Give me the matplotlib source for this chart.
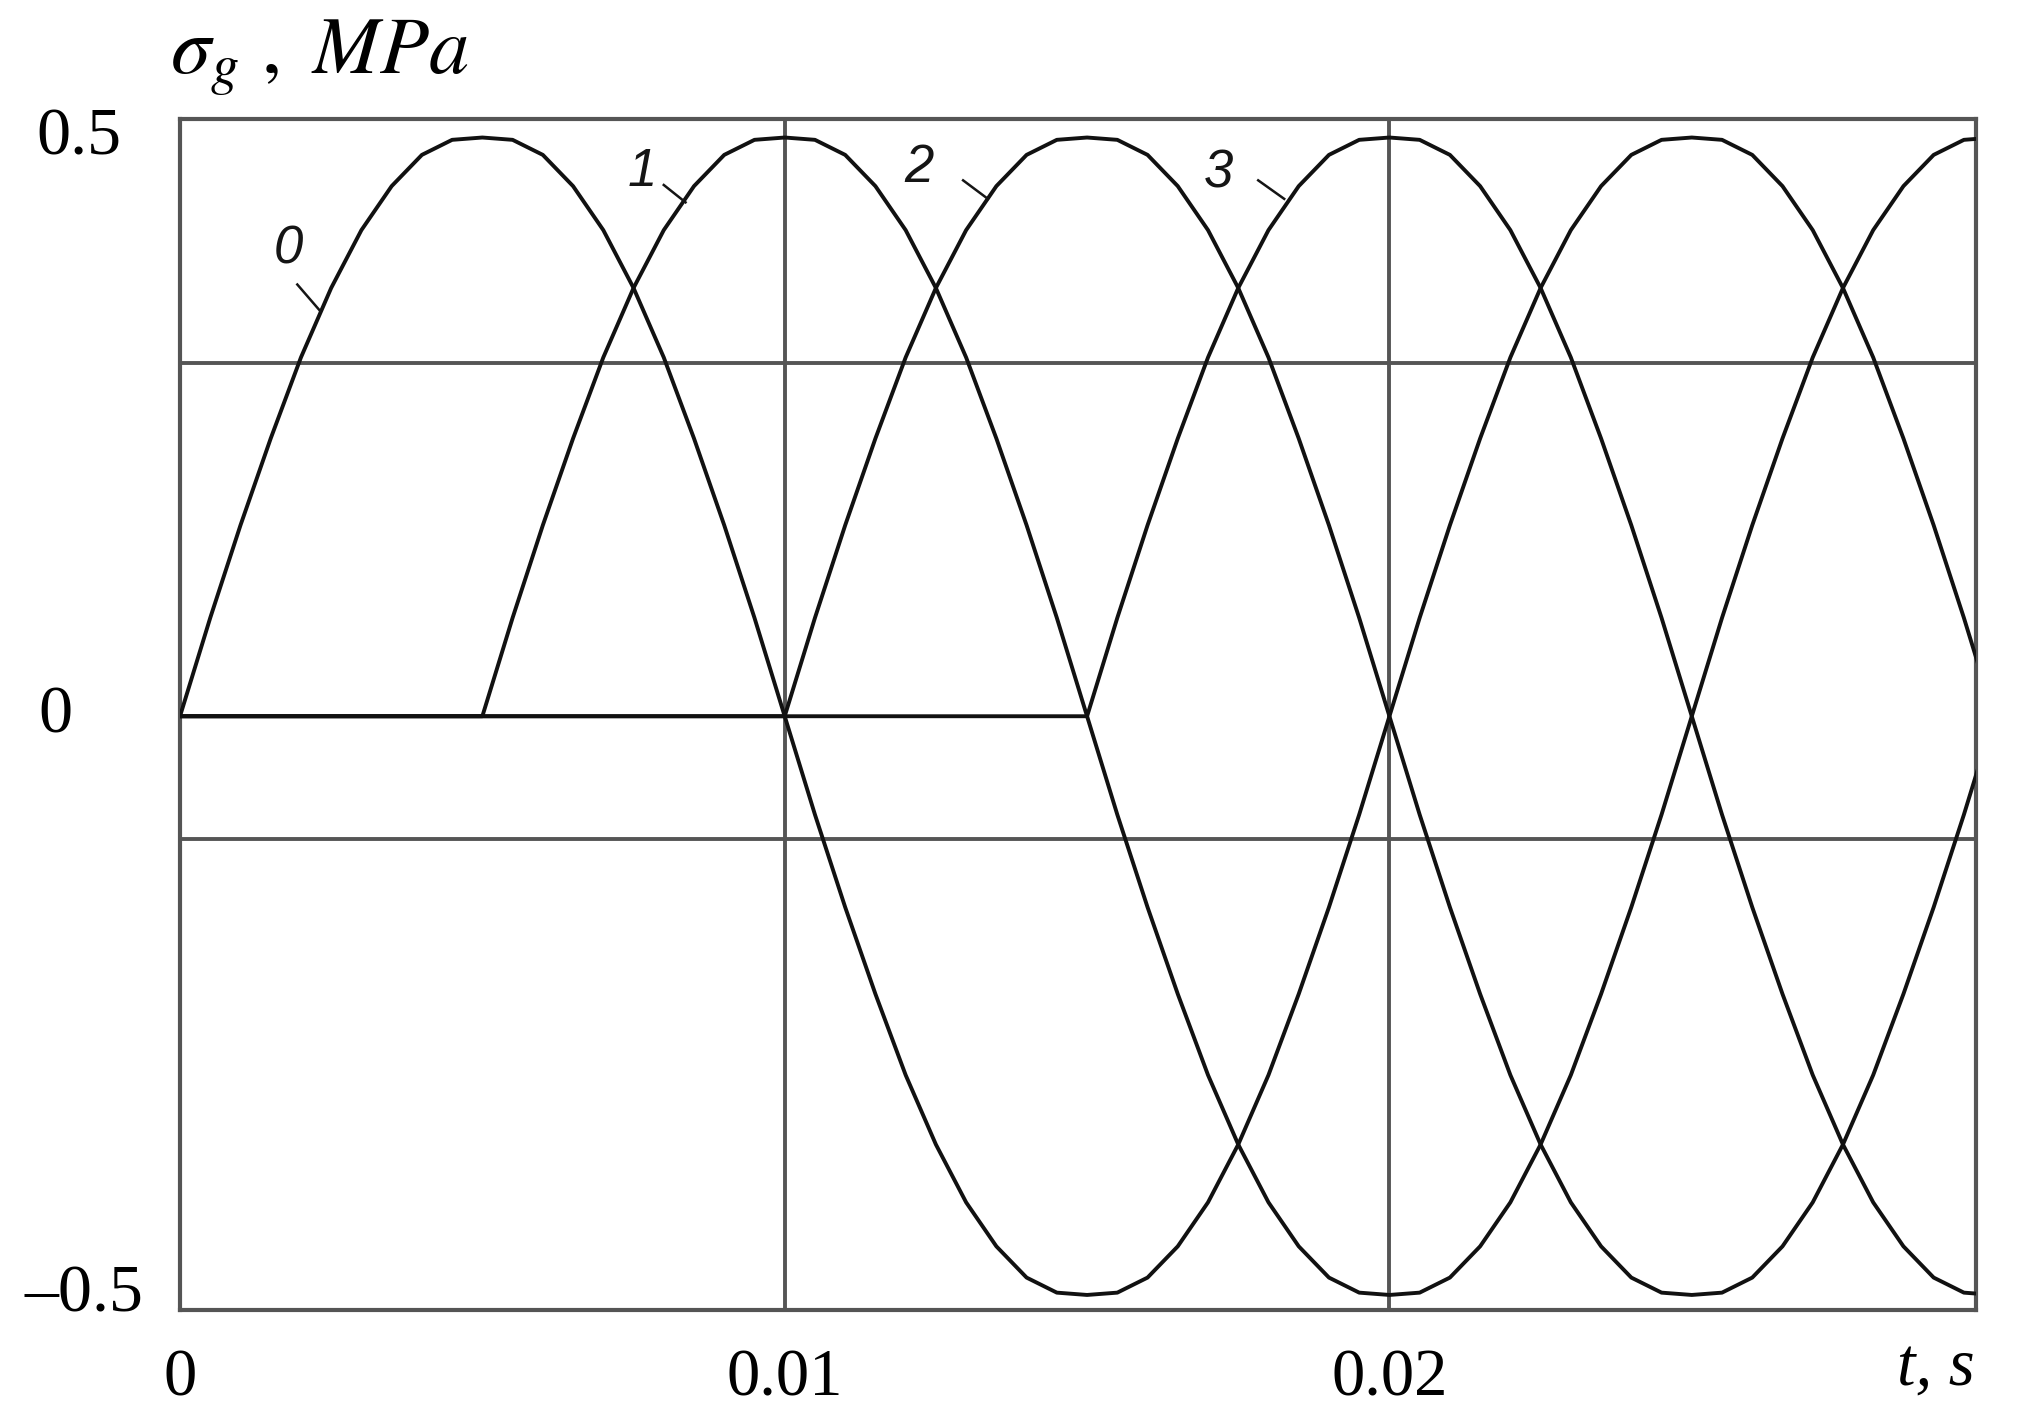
import numpy as np
import matplotlib
matplotlib.use("Agg")
from matplotlib import pyplot as plt
import matplotlib.transforms as mtransforms

plt.rcParams['font.family'] = ['Liberation Serif', 'DejaVu Serif']
plt.rcParams['mathtext.fontset'] = 'stix'

# time samples, s (every 0.5 ms)
t = np.linspace(0, 0.03, 61)

# stress curves, MPa
sig0 = [0, 0.085, 0.165, 0.24, 0.31, 0.37, 0.42, 0.458, 0.485, 0.498,
        0.5, 0.498, 0.485, 0.458, 0.42, 0.37, 0.31, 0.24, 0.165, 0.085,
        0, -0.085, -0.165, -0.24, -0.31, -0.37, -0.42, -0.458, -0.485, -0.498,
        -0.5, -0.498, -0.485, -0.458, -0.42, -0.37, -0.31, -0.24, -0.165, -0.085,
        0, 0.085, 0.165, 0.24, 0.31, 0.37, 0.42, 0.458, 0.485, 0.498,
        0.5, 0.498, 0.485, 0.458, 0.42, 0.37, 0.31, 0.24, 0.165, 0.085,
        0]
sig1 = [0, 0, 0, 0, 0, 0, 0, 0, 0, 0,
        0, 0.085, 0.165, 0.24, 0.31, 0.37, 0.42, 0.458, 0.485, 0.498,
        0.5, 0.498, 0.485, 0.458, 0.42, 0.37, 0.31, 0.24, 0.165, 0.085,
        0, -0.085, -0.165, -0.24, -0.31, -0.37, -0.42, -0.458, -0.485, -0.498,
        -0.5, -0.498, -0.485, -0.458, -0.42, -0.37, -0.31, -0.24, -0.165, -0.085,
        0, 0.085, 0.165, 0.24, 0.31, 0.37, 0.42, 0.458, 0.485, 0.498,
        0.5]
sig2 = [0, 0, 0, 0, 0, 0, 0, 0, 0, 0,
        0, 0, 0, 0, 0, 0, 0, 0, 0, 0,
        0, 0.085, 0.165, 0.24, 0.31, 0.37, 0.42, 0.458, 0.485, 0.498,
        0.5, 0.498, 0.485, 0.458, 0.42, 0.37, 0.31, 0.24, 0.165, 0.085,
        0, -0.085, -0.165, -0.24, -0.31, -0.37, -0.42, -0.458, -0.485, -0.498,
        -0.5, -0.498, -0.485, -0.458, -0.42, -0.37, -0.31, -0.24, -0.165, -0.085,
        0]
sig3 = [0, 0, 0, 0, 0, 0, 0, 0, 0, 0,
        0, 0, 0, 0, 0, 0, 0, 0, 0, 0,
        0, 0, 0, 0, 0, 0, 0, 0, 0, 0,
        0, 0.085, 0.165, 0.24, 0.31, 0.37, 0.42, 0.458, 0.485, 0.498,
        0.5, 0.498, 0.485, 0.458, 0.42, 0.37, 0.31, 0.24, 0.165, 0.085,
        0, -0.085, -0.165, -0.24, -0.31, -0.37, -0.42, -0.458, -0.485, -0.498,
        -0.5]
curves = [sig0, sig1, sig2, sig3]
curve_names = ['0', '1', '2', '3']

# label spots (text pos, leader start, leader end) in data units
label_pos = [(0.00179, 0.403), (0.00765, 0.470), (0.01222, 0.474), (0.01717, 0.469)]
leader_a = [(0.00194, 0.373), (0.0080, 0.459), (0.01295, 0.463), (0.01783, 0.463)]
leader_b = [(0.00232, 0.350), (0.00836, 0.444), (0.01336, 0.447), (0.01826, 0.447)]

xticks = [0, 0.01, 0.02]
xtick_labels = ['0', '0.01', '0.02']
yticks = [-0.5, 0, 0.5]
ytick_labels = ['\u20130.5', '0', '0.5']
ylab_left = [24, 38, 36]   # px from the left edge
vgrid = [0.01, 0.02]
hgrid = [0.305, -0.106]

fig = plt.figure(figsize=(20.17, 14.2), dpi=100)
ax = fig.add_axes([180/2017, 1 - 1310/1420, (1976-180)/2017, (1310-119)/1420])

grid_col = '#555555'
for x in vgrid:
    ax.axvline(x, color=grid_col, lw=2.8, zorder=1)
for y in hgrid:
    ax.axhline(y, color=grid_col, lw=2.8, zorder=1)

for s in curves:
    ax.plot(t, s, color='#111111', lw=2.8, zorder=3,
            solid_joinstyle='round', solid_capstyle='round')

for name, p, a, b in zip(curve_names, label_pos, leader_a, leader_b):
    ax.text(p[0], p[1], name, family='Liberation Sans', style='italic',
            fontsize=38, ha='center', va='center', color='#151515', zorder=4)
    ax.plot([a[0], b[0]], [a[1], b[1]], color='#151515', lw=1.8, zorder=4)

ax.set_xlim(0, 0.0297)
ax.set_ylim(-0.513, 0.516)

for sp in ax.spines.values():
    sp.set_color(grid_col)
    sp.set_linewidth(3.0)

ax.set_xticks(xticks)
ax.set_xticklabels(xtick_labels, fontsize=48)
ax.tick_params(axis='x', length=0, pad=28)
ax.set_yticks(yticks)
ax.set_yticklabels([])
ax.tick_params(axis='y', length=0)

trans = mtransforms.blended_transform_factory(fig.transFigure, ax.transData)
for y, lab, xl in zip(yticks, ytick_labels, ylab_left):
    ax.text(xl/2017, y, lab, transform=trans, fontsize=49, ha='left', va='center')

fig.text(170/2017, 1 - 58/1420, r'$\sigma_g\ ,\ MPa$', fontsize=58, ha='left', va='center')
fig.text(1975/2017, 1 - 1368/1420, 't, s', fontsize=48, style='italic', ha='right', va='center')

fig.savefig('out.png', dpi=100, facecolor='white')
